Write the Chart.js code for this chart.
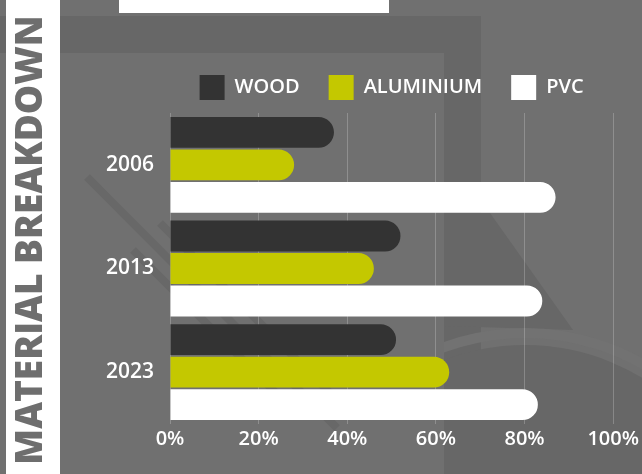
<!DOCTYPE html>
<html lang="en">
<head>
    <meta charset="UTF-8">
    <title>Material Breakdown</title>
    <script src="https://cdn.jsdelivr.net/npm/chart.js"></script>
    <style>
        body {
            margin: 0;
            padding: 0;
            background-color: #707070;
            font-family: "Open Sans", sans-serif;
        }

        .wrap {
            position: relative;
            width: 642px;
            height: 474px;
            overflow: hidden;
        }

        .strip {
            position: absolute;
            left: 6px;
            top: 0;
            width: 54px;
            height: 474px;
            background-color: #fff;
        }

        .title {
            position: absolute;
            left: 26.5px;
            top: 240px;
            transform: translate(-50%, -50%) rotate(-90deg);
            white-space: nowrap;
            font-size: 37px;
            font-weight: 800;
            line-height: 1;
            color: #6e6e6e;
        }

        .topbox {
            position: absolute;
            left: 119px;
            top: 0;
            width: 270px;
            height: 13px;
            background-color: #fff;
        }

        canvas {
            position: absolute;
            left: 0;
            top: 0;
        }
    </style>
</head>
<body>
<div class="wrap">
    <canvas id="materialChart" width="642" height="474"></canvas>
    <div class="strip"></div>
    <div class="title">MATERIAL BREAKDOWN</div>
    <div class="topbox"></div>
</div>

<script>
    // datos
    const years = ['2006', '2013', '2023'];
    const wood = [37, 52, 51];
    const aluminium = [28, 46, 63];
    const pvc = [87, 84, 83];
    const xTicks = [0, 20, 40, 60, 80, 100];

    // fondo gris con las formas decorativas
    const backdrop = {
        id: 'backdrop',
        beforeDraw(chart) {
            const ctx = chart.ctx;
            ctx.save();
            ctx.fillStyle = '#707070';
            ctx.fillRect(0, 0, chart.width, chart.height);

            const dark = '#676767';
            ctx.fillStyle = dark;
            ctx.fillRect(0, 16, 481, 37);
            ctx.fillRect(444, 53, 37, 421);

            // lapiz
            ctx.strokeStyle = '#686868';
            ctx.lineWidth = 8;
            ctx.beginPath();
            ctx.moveTo(87, 177);
            ctx.lineTo(337, 428);
            ctx.moveTo(160, 223);
            ctx.lineTo(330, 393);
            ctx.moveTo(133, 250);
            ctx.lineTo(300, 417);
            ctx.stroke();

            // lado derecho: hoja y circulo
            ctx.beginPath();
            ctx.rect(444, 0, 200, 474);
            ctx.clip();
            ctx.beginPath();
            ctx.moveTo(444, 213);
            ctx.lineTo(490, 213);
            ctx.lineTo(573, 330);
            ctx.lineTo(444, 326);
            ctx.closePath();
            ctx.fill();

            ctx.beginPath();
            ctx.arc(525, 570, 225, 0, Math.PI * 2);
            ctx.fill();
            ctx.strokeStyle = '#727272';
            ctx.lineWidth = 10;
            ctx.beginPath();
            ctx.arc(525, 570, 237, Math.PI * 1.1, Math.PI * 1.95);
            ctx.stroke();
            ctx.restore();
        }
    };

    // un poco mas de espacio bajo la leyenda
    const legendGap = {
        id: 'legendGap',
        afterInit(chart) {
            const fit = chart.legend.fit;
            chart.legend.fit = function () {
                fit.call(this);
                this.height += 3;
            };
        }
    };

    const ctx = document.getElementById('materialChart').getContext('2d');
    const chart = new Chart(ctx, {
        type: 'bar',
        data: {
            labels: years,
            datasets: [{
                label: 'WOOD',
                data: wood,
                backgroundColor: '#333333'
            }, {
                label: 'ALUMINIUM',
                data: aluminium,
                backgroundColor: '#c4c800'
            }, {
                label: 'PVC',
                data: pvc,
                backgroundColor: '#ffffff'
            }]
        },
        options: {
            indexAxis: 'y',
            responsive: false,
            animation: false,
            categoryPercentage: 0.94,
            barPercentage: 0.95,
            borderRadius: 16,
            layout: {
                padding: { left: 60, right: 26, top: 46, bottom: 20 }
            },
            plugins: {
                legend: {
                    position: 'top',
                    fullSize: false,
                    labels: {
                        boxWidth: 25,
                        boxHeight: 25,
                        padding: 29,
                        color: '#ffffff',
                        font: { family: 'Open Sans', size: 20, weight: '600' }
                    }
                },
                tooltip: { enabled: false }
            },
            scales: {
                x: {
                    min: 0,
                    max: 100,
                    afterBuildTicks(scale) {
                        scale.ticks = xTicks.map(v => ({ value: v }));
                    },
                    grid: {
                        color: 'rgba(255, 255, 255, 0.22)',
                        drawTicks: false
                    },
                    border: { display: false },
                    ticks: {
                        padding: 3,
                        color: '#ffffff',
                        font: { family: 'Open Sans', size: 20, weight: '600' },
                        callback: v => v + '%'
                    }
                },
                y: {
                    grid: { display: false, drawTicks: false },
                    border: { display: false },
                    afterFit(scale) {
                        scale.width = 110;
                    },
                    ticks: {
                        padding: 16,
                        color: '#ffffff',
                        font: { family: 'Open Sans', size: 21, weight: '600' }
                    }
                }
            }
        },
        plugins: [backdrop, legendGap]
    });
</script>
</body>
</html>
